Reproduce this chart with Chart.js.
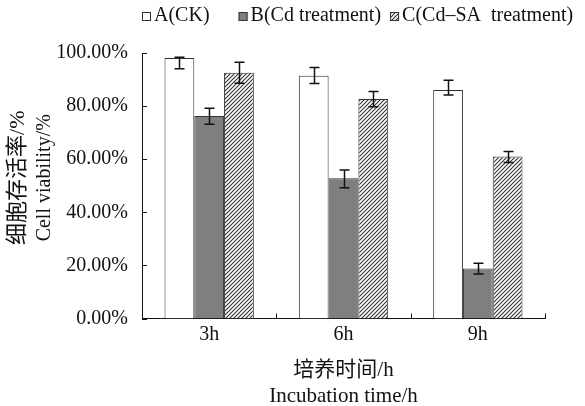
<!DOCTYPE html>
<html>
<head>
<meta charset="utf-8">
<script src="https://cdn.jsdelivr.net/npm/chart.js@4/dist/chart.umd.min.js"></script>
<style>
  html, body { margin: 0; padding: 0; background: #fff; }
  #wrap { width: 585px; height: 406px; }
</style>
</head>
<body>
<div id="wrap"><canvas id="myChart"></canvas></div>
<script>
const categories = ['3h', '6h', '9h'];
const seriesNames = ['A(CK)    ', 'B(Cd treatment)', 'C(Cd\u2013SA  treatment)'];

// cell viability in %
const valuesA = [98.1, 91.4, 86.1];
const valuesB = [76.3, 52.8, 18.8];
const valuesC = [92.6, 82.7, 61.0];

// whisker ends (%)
const highA = [98.4, 94.5, 89.7];
const lowA  = [94.1, 88.5, 84.2];
const highB = [79.2, 55.9, 20.8];
const lowB  = [73.2, 49.2, 16.8];
const highC = [96.5, 85.5, 62.9];
const lowC  = [88.6, 79.8, 58.8];

const yTicks = [0, 20, 40, 60, 80, 100];

const FONT = "'Liberation Serif', 'Noto Sans CJK SC', serif";
const INK = '#111';

//diagonal hatch for series C
function hatch() {
    const c = document.createElement('canvas');
    c.width = 4; c.height = 4;
    const g = c.getContext('2d');
    g.fillStyle = '#fff';
    g.fillRect(0, 0, 4, 4);
    g.strokeStyle = '#333';
    g.lineWidth = 1.1;
    g.beginPath();
    g.moveTo(0, 4); g.lineTo(4, 0);
    g.moveTo(-1, 1); g.lineTo(1, -1);
    g.moveTo(3, 5); g.lineTo(5, 3);
    g.stroke();
    return g.createPattern(c, 'repeat');
}

const highs = [highA, highB, highC];
const lows = [lowA, lowB, lowC];

const errorBars = {
    id: 'errorBars',
    afterDatasetsDraw(chart) {
        const ctx = chart.ctx;
        const y = chart.scales.y;
        ctx.save();
        ctx.strokeStyle = '#111';
        ctx.lineWidth = 1.5;
        chart.data.datasets.forEach((ds, i) => {
            chart.getDatasetMeta(i).data.forEach((bar, j) => {
                const top = y.getPixelForValue(highs[i][j]);
                const bot = y.getPixelForValue(lows[i][j]);
                const x = Math.round(bar.x) + 0.5;
                ctx.beginPath();
                ctx.moveTo(x, top); ctx.lineTo(x, bot);
                ctx.moveTo(x - 5, top); ctx.lineTo(x + 5, top);
                ctx.moveTo(x - 5, bot); ctx.lineTo(x + 5, bot);
                ctx.stroke();
            });
        });
        ctx.restore();
    }
};

//tick marks point inward on both axes
const innerTicks = {
    id: 'innerTicks',
    afterDraw(chart) {
        const ctx = chart.ctx;
        const a = chart.chartArea;
        const x = chart.scales.x;
        const y = chart.scales.y;
        ctx.save();
        ctx.strokeStyle = '#111';
        ctx.lineWidth = 1;
        ctx.beginPath();
        yTicks.forEach(v => {
            const py = Math.round(y.getPixelForValue(v)) + 0.5;
            ctx.moveTo(a.left, py);
            ctx.lineTo(a.left + 5, py);
        });
        const step = (a.right - a.left) / categories.length;
        for (let i = 0; i < categories.length; i++) {
            const px = Math.round(x.getPixelForValue(i) + step / 2) + 0.5;
            ctx.moveTo(px, a.bottom);
            ctx.lineTo(px, a.bottom - 5);
        }
        ctx.stroke();
        ctx.restore();
    }
};

const yTitle = {
    id: 'yTitle',
    afterDraw(chart) {
        const ctx = chart.ctx;
        const a = chart.chartArea;
        const cy = (a.top + a.bottom) / 2 - 8;
        ctx.save();
        ctx.fillStyle = INK;
        ctx.textAlign = 'center';
        ctx.textBaseline = 'middle';
        ctx.translate(a.left - 124, cy);
        ctx.rotate(-Math.PI / 2);
        ctx.font = '22px ' + FONT;
        ctx.fillText('细胞存活率/%', 0, 0);
        ctx.restore();
        ctx.save();
        ctx.fillStyle = INK;
        ctx.textAlign = 'center';
        ctx.textBaseline = 'middle';
        ctx.translate(a.left - 97, cy);
        ctx.rotate(-Math.PI / 2);
        ctx.font = '20px ' + FONT;
        ctx.fillText('Cell viability/%', 0, 0);
        ctx.restore();
    }
};

//legend drawn by hand: small box, tight gap, text
const topLegend = {
    id: 'topLegend',
    afterDraw(chart) {
        const ctx = chart.ctx;
        let x = chart.chartArea.left;
        const cy = 16;
        ctx.save();
        ctx.font = '20px ' + FONT;
        ctx.textBaseline = 'middle';
        ctx.fillStyle = INK;
        chart.data.datasets.forEach(ds => {
            ctx.fillStyle = ds.backgroundColor;
            ctx.fillRect(x, cy - 4, 9, 9);
            ctx.strokeStyle = '#333';
            ctx.lineWidth = 1;
            ctx.strokeRect(x + 0.5, cy - 3.5, 8, 8);
            ctx.fillStyle = INK;
            ctx.fillText(ds.label, x + 12, cy);
            x += 12 + ctx.measureText(ds.label).width + 9;
        });
        ctx.restore();
    }
};

const chart = new Chart('myChart', {
    type: 'bar',
    data: {
        labels: categories,
        datasets: [{
            label: seriesNames[0],
            data: valuesA,
            backgroundColor: '#ffffff',
            borderColor: '#333',
            borderWidth: 1
        }, {
            label: seriesNames[1],
            data: valuesB,
            backgroundColor: '#7f7f7f',
            borderColor: '#333',
            borderWidth: 1
        }, {
            label: seriesNames[2],
            data: valuesC,
            backgroundColor: hatch(),
            borderColor: '#333',
            borderWidth: 1
        }]
    },
    options: {
        responsive: true,
        maintainAspectRatio: false,
        animation: false,
        devicePixelRatio: 1,
        barPercentage: 1,
        categoryPercentage: 0.665,
        layout: { padding: 0 },
        plugins: {
            tooltip: { enabled: false },
            legend: { display: false }
        },
        scales: {
            x: {
                grid: { display: false, drawTicks: false },
                border: { display: true, color: '#111', width: 1 },
                ticks: { color: INK, padding: 6, font: { family: FONT, size: 20, lineHeight: 1.0 } },
                title: {
                    display: true,
                    text: ['培养时间/h', 'Incubation time/h'],
                    color: INK,
                    font: { family: FONT, size: 21, lineHeight: 1.25 },
                    padding: { top: 7, bottom: -4 }
                }
            },
            xTop: {
                type: 'category',
                position: 'top',
                grid: { display: false, drawTicks: false },
                border: { display: false },
                ticks: { display: false },
                afterFit: function(s) { s.height = 53; }
            },
            y: {
                min: 0,
                max: 100,
                grid: { display: false, drawTicks: false },
                border: { display: true, color: '#111', width: 1 },
                ticks: {
                    stepSize: 20,
                    padding: 14,
                    color: INK,
                    font: { family: FONT, size: 20 },
                    callback: v => v.toFixed(2) + '%'
                },
                afterFit: function(s) { s.width = 142; }
            },
            yRight: {
                type: 'linear',
                position: 'right',
                grid: { display: false, drawTicks: false },
                border: { display: false },
                ticks: { display: false },
                afterFit: function(s) { s.width = 40; }
            }
        }
    },
    plugins: [errorBars, innerTicks, yTitle, topLegend]
});
</script>
</body>
</html>
